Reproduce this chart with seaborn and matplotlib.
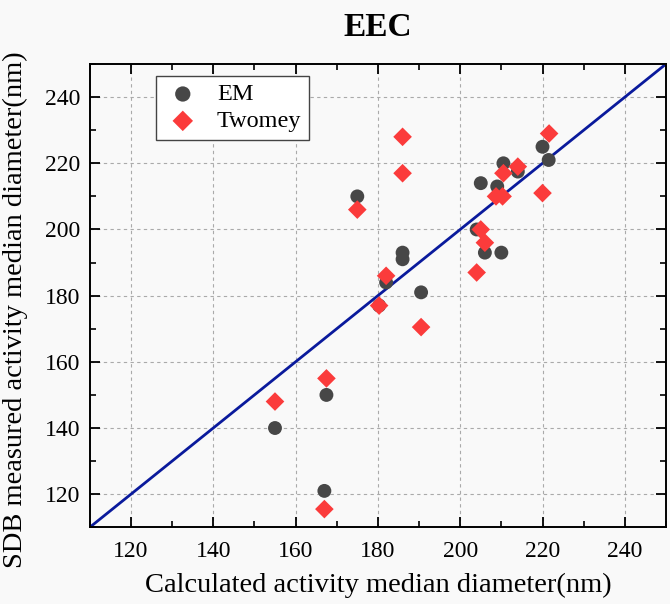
import matplotlib
matplotlib.use("Agg")
import matplotlib.pyplot as plt
import seaborn as sns
import pandas as pd
from matplotlib.ticker import MultipleLocator

# EM series (calculated vs SDB measured)
em_x = [155, 167.5, 167, 175, 186, 186, 182, 180.3, 190.5, 204, 206, 210, 205, 209, 210.5, 214, 220, 221.5]
em_y = [140, 150, 121, 210, 193, 191, 184, 177, 181, 200, 193, 193, 214, 213, 220, 217.5, 225, 221]

# Twomey series
tw_x = [155, 167.5, 167, 175, 186, 186, 182, 180.3, 190.5, 204, 205, 206, 208.7, 210.3, 210.5, 214, 220, 221.6]
tw_y = [148, 155, 115.5, 206, 228, 217, 186, 177, 170.5, 187, 200, 196, 210, 210, 217, 219, 211, 229]

ticks = [120, 140, 160, 180, 200, 220, 240]

em = pd.DataFrame({"x": em_x, "y": em_y})
tw = pd.DataFrame({"x": tw_x, "y": tw_y})

sns.set_style("ticks")
plt.rcParams["font.family"] = ["Liberation Serif", "DejaVu Serif"]
plt.rcParams["text.color"] = "black"
plt.rcParams["axes.labelcolor"] = "black"
plt.rcParams["xtick.color"] = "black"
plt.rcParams["ytick.color"] = "black"

bg = "#f9f9f9"
fig, ax = plt.subplots(figsize=(6.7, 6.04), dpi=100, facecolor=bg)
fig.subplots_adjust(left=0.134, right=0.994, bottom=0.127, top=0.894)
ax.set_facecolor(bg)

ax.axline((0, 0), slope=1, color="#0a1a9c", linewidth=2, zorder=2)

sns.scatterplot(data=em, x="x", y="y", ax=ax, marker="o", s=100,
                color="#474747", edgecolor="none", label="EM", zorder=3)
sns.scatterplot(data=tw, x="x", y="y", ax=ax, marker="D", s=90,
                color="#fb3b3b", edgecolor="none", label="Twomey", zorder=4)

ax.set_xlim(110, 250)
ax.set_ylim(110, 250)
ax.set_xticks(ticks)
ax.set_yticks(ticks)
ax.xaxis.set_minor_locator(MultipleLocator(10))
ax.yaxis.set_minor_locator(MultipleLocator(10))
ax.tick_params(which="major", direction="in", length=7, width=1.3,
               top=True, right=True, labelsize=17)
ax.tick_params(axis="x", which="major", pad=10)
ax.tick_params(axis="y", which="major", pad=7)
ax.tick_params(which="minor", direction="in", length=4, width=1.2,
               top=True, right=True)
ax.grid(True, which="major", linestyle=(0, (3, 3)), color="#aaaaaa", linewidth=0.8)
for sp in ax.spines.values():
    sp.set_linewidth(1.4)
    sp.set_color("black")

ax.set_xlabel("Calculated activity median diameter(nm)", fontsize=20.5, labelpad=8)
ax.set_ylabel("SDB measured activity median diameter(nm)", fontsize=20.5)
ax.yaxis.set_label_coords(-0.108, 0.47)
ax.set_title("EEC", fontsize=24, fontweight="bold", pad=20)

leg = ax.legend(loc="upper left", bbox_to_anchor=(0.115, 0.974), borderaxespad=0,
                fontsize=17.5, frameon=True, fancybox=False, handletextpad=0.6,
                borderpad=0.3, labelspacing=0.2, handlelength=1.6, markerscale=1.1)
leg.get_frame().set_edgecolor("#444444")
leg.get_frame().set_linewidth(1.0)
leg.get_frame().set_facecolor("white")
leg.get_frame().set_alpha(1)

fig.savefig("out.png", dpi=100, facecolor=bg)
